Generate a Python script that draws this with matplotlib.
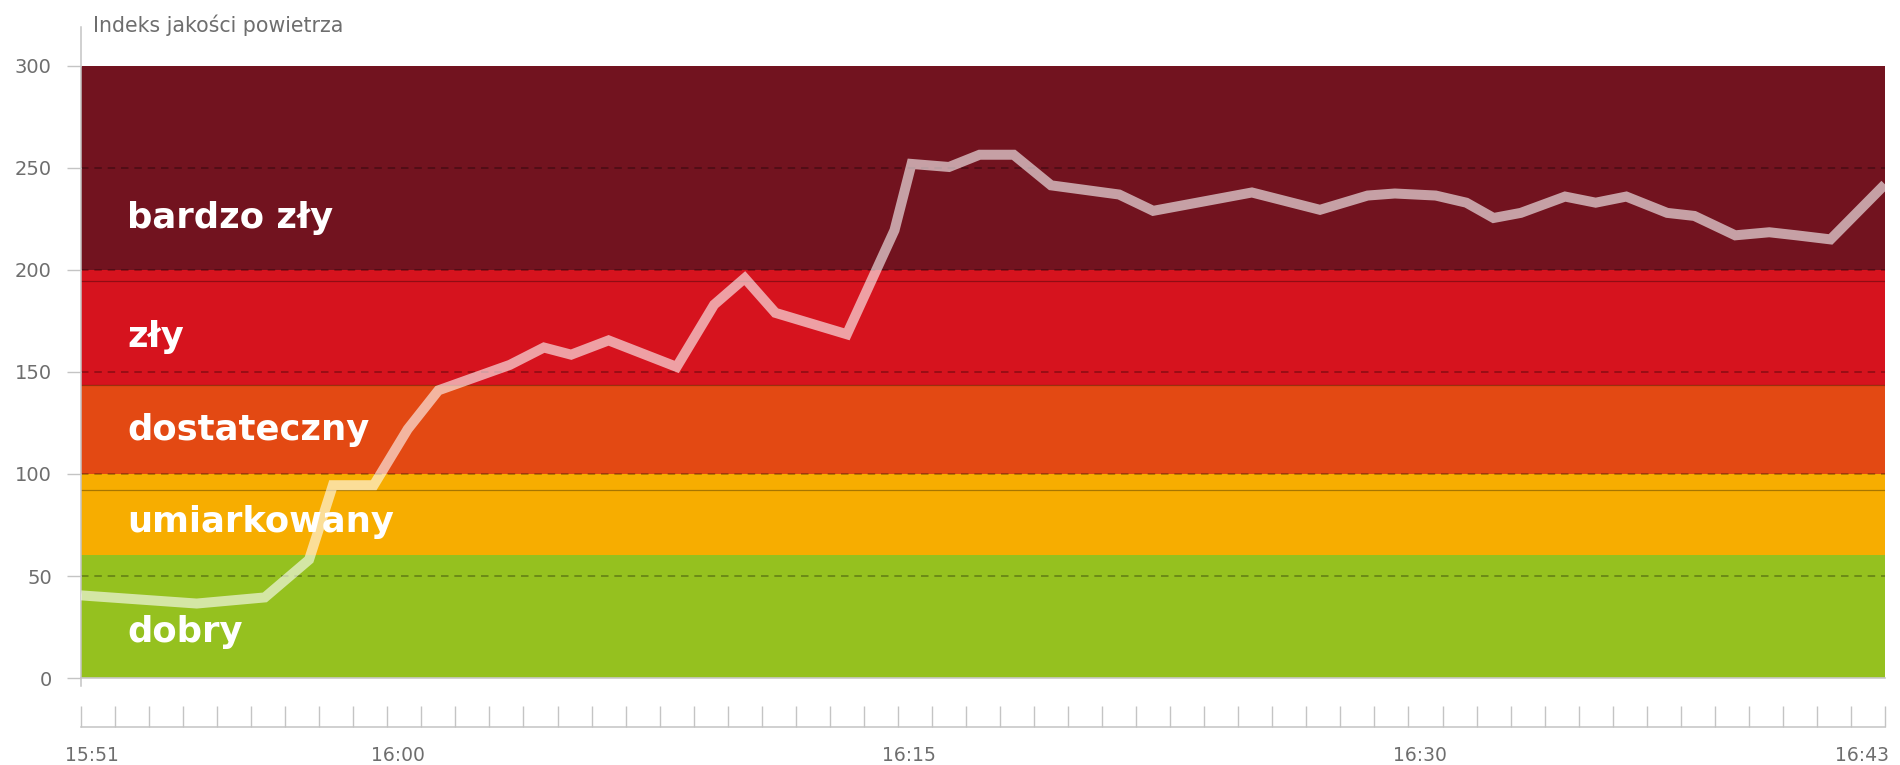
import matplotlib
matplotlib.use("Agg")
import matplotlib.pyplot as plt
from matplotlib.lines import Line2D
from matplotlib.transforms import ScaledTranslation, blended_transform_factory

# ---------------------------------------------------------------- data
band_names = ["dobry", "umiarkowany", "dostateczny", "zły", "bardzo zły"]
band_edges = [0, 60.5, 100, 143.5, 200, 300]
band_colors = ["#95c11f", "#f7ad00", "#e34913", "#d6131e", "#72131f"]

# minutes elapsed since 15:51 and the air-quality index at that moment
elapsed_min = [0.0, 3.4, 5.4, 6.7, 7.4, 8.6, 9.6, 10.5, 12.6, 13.6, 14.4,
               15.5, 17.5, 18.6, 19.5, 20.4, 22.5, 23.9, 24.4, 25.5, 26.4,
               27.4, 28.5, 30.5, 31.5, 34.4, 36.4, 37.8, 38.6, 39.8, 40.7,
               41.5, 42.3, 43.6, 44.5, 45.4, 46.6, 47.4, 48.6, 49.6, 50.4,
               51.4, 53.0]
index_values = [40.5, 36.5, 39.5, 58.0, 94.5, 94.5, 122.0, 141.0, 153.5,
                162.0, 158.5, 165.5, 152.5, 183.0, 196.0, 179.0, 168.5, 219.5,
                252.0, 250.5, 256.5, 256.5, 241.5, 237.0, 229.0, 238.0, 229.5,
                236.5, 237.5, 236.5, 233.0, 225.5, 228.0, 236.0, 233.0, 236.0,
                228.0, 226.5, 217.0, 218.5, 217.0, 215.0, 242.0]

time_labels = ["15:51", "16:00", "16:15", "16:30", "16:43"]
start_time = "15:51"
end_minute = 53
y_ticks = [0, 50, 100, 150, 200, 250, 300]
grid_levels = [50, 100, 150, 200, 250]
reference_levels = [92, 143.5, 194.5]
y_title = "Indeks jakości powietrza"


def minutes_since(label, start=start_time):
    h, m = map(int, label.split(":"))
    h0, m0 = map(int, start.split(":"))
    return (h * 60 + m) - (h0 * 60 + m0)


# ---------------------------------------------------------------- style
plt.rcParams["font.family"] = ["DejaVu Sans"]
W, H = 1900, 765
fig = plt.figure(figsize=(W / 100, H / 100), dpi=100)
ax = fig.add_axes([81 / W, 87 / H, 1804 / W, 612 / H])
ax.set_xlim(0, end_minute)
ax.set_ylim(0, 300)

# coloured category bands
for lo, hi, col in zip(band_edges[:-1], band_edges[1:], band_colors):
    ax.axhspan(lo, hi, color=col, lw=0, zorder=0)

# dashed grid and thin solid reference lines
for lvl in grid_levels:
    ax.axhline(lvl, color=(0, 0, 0, 0.33), lw=1.2, ls=(0, (4.5, 3.5)), zorder=1)
for lvl in reference_levels:
    ax.axhline(lvl, color=(0, 0, 0, 0.32), lw=0.9, zorder=1)
ax.axhline(0, color="#c9c9c9", lw=1.2, zorder=2, clip_on=False)

# category names
name_tf = blended_transform_factory(ax.transAxes, ax.transData)
name_baselines = [17.6, 71.6, 116.7, 162.3, 220.6]
for name, yb in zip(band_names, name_baselines):
    ax.text(46 / 1804, yb, name, transform=name_tf, color="white",
            fontsize=25.5, fontweight="bold", va="baseline", ha="left",
            zorder=2)

# index line
ax.plot(elapsed_min, index_values, color="white", alpha=0.6, lw=7.2,
        solid_joinstyle="miter", solid_capstyle="butt", zorder=3)

# ---------------------------------------------------------------- axes
for side in ("top", "right", "left"):
    ax.spines[side].set_visible(False)
ax.add_line(Line2D([0, 0], [-8 / 612, 1 + 39 / 612], transform=ax.transAxes,
                   color="#c4c4c4", lw=1.1, clip_on=False))

ax.set_yticks(y_ticks)
ax.set_yticklabels([str(v) for v in y_ticks])
ax.tick_params(axis="y", length=10, width=1, color="#c4c4c4", pad=11,
               labelsize=14, labelcolor="#6e6e6e")

ax.spines["bottom"].set_position(("outward", 35.3))
ax.spines["bottom"].set_color("#c4c4c4")
ax.spines["bottom"].set_linewidth(1.1)
label_at = {minutes_since(t): t for t in time_labels}
ticks = list(range(0, end_minute + 1))
ax.set_xticks(ticks)
ax.set_xticklabels([label_at.get(t, "") for t in ticks])
ax.tick_params(axis="x", direction="in", length=15, width=1, color="#c4c4c4",
               pad=14, labelsize=13.5, labelcolor="#6e6e6e")
shift = ScaledTranslation(0.11, 0, fig.dpi_scale_trans)
for lab in ax.get_xticklabels():
    lab.set_transform(lab.get_transform() + shift)

fig.text(93 / W, 1 - 25 / H, y_title, ha="left", va="center",
         fontsize=14.8, color="#6e6e6e")

fig.savefig("out.png", dpi=100)
